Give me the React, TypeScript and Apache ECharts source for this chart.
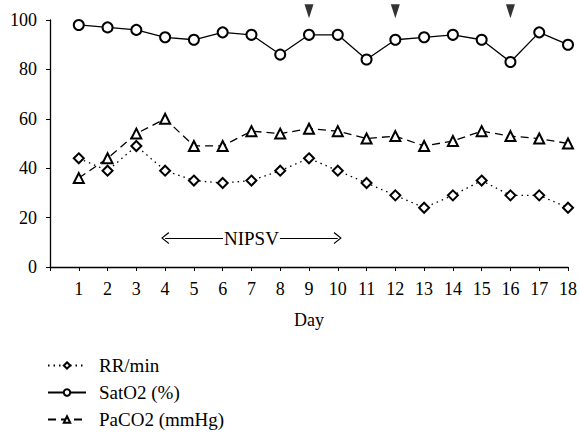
import React, { useEffect, useRef } from "react";
import * as echarts from "echarts";

const days = [1, 2, 3, 4, 5, 6, 7, 8, 9, 10, 11, 12, 13, 14, 15, 16, 17, 18];
const rrValues = [44, 39, 49, 39, 35, 34, 35, 39, 44, 39, 34, 29, 24, 29, 35, 29, 29, 24];
const satValues = [98, 97, 96, 93, 92, 95, 94, 86, 94, 94, 84, 92, 93, 94, 92, 83, 95, 90];
const pacoValues = [36, 44, 54, 60, 49, 49, 55, 54, 56, 55, 52, 53, 49, 51, 55, 53, 52, 50];
const markerDays = [9, 12, 16];
const markerLevel = 103.5;
const nipsvStart = 4;
const nipsvEnd = 10;
const nipsvLevel = 11.7;
const yTicks = [0, 20, 40, 60, 80, 100];

const FONT = "Liberation Serif";

export default function App() {
  const ref = useRef<HTMLDivElement>(null);
  useEffect(() => {
    if (!ref.current) return;
    const chart = echarts.init(ref.current, undefined, { renderer: "svg" });
    const pair = (vals: number[]) => days.map((d, i) => [d, vals[i]]);
    const chevron = "path://M0,10 L5,0 L10,10 L9,10.8 L5,2.4 L1,10.8 Z";
    chart.setOption({
      animation: false,
      backgroundColor: "#fff",
      textStyle: { fontFamily: FONT, color: "#000" },
      grid: { left: 50, right: 9, top: 20, bottom: 167, containLabel: false },
      legend: {
        orient: "vertical",
        left: 47,
        top: 356,
        height: 76,
        padding: 0,
        itemWidth: 38,
        itemHeight: 8,
        itemGap: 8,
        data: ["RR/min", "SatO2 (%)", "PaCO2 (mmHg)"],
        textStyle: { fontFamily: FONT, fontSize: 19, lineHeight: 18, color: "#000", padding: [0, 0, 0, 8] },
      },
      xAxis: {
        type: "value",
        min: 0,
        max: 18,
        interval: 1,
        name: "Day",
        nameLocation: "middle",
        nameGap: 44,
        nameTextStyle: { fontFamily: FONT, fontSize: 18, color: "#000" },
        axisLine: { show: true, lineStyle: { color: "#000", width: 1.3 } },
        axisTick: { show: true, length: 4, lineStyle: { color: "#000" } },
        axisLabel: {
          margin: 13,
          fontFamily: FONT,
          fontSize: 18,
          color: "#000",
          formatter: (v: number) => (v === 0 ? "" : String(v)),
        },
        splitLine: { show: false },
      },
      yAxis: {
        type: "value",
        min: yTicks[0],
        max: yTicks[yTicks.length - 1],
        interval: 20,
        axisLine: { show: true, lineStyle: { color: "#000", width: 1.3 } },
        axisTick: { show: true, length: 4, lineStyle: { color: "#000" } },
        axisLabel: { margin: 13, fontFamily: FONT, fontSize: 18, color: "#000" },
        splitLine: { show: false },
      },
      series: [
        {
          name: "RR/min",
          type: "line",
          data: pair(rrValues),
          symbol: "emptyDiamond",
          symbolSize: 10,
          itemStyle: { color: "#000", borderWidth: 1.3 },
          lineStyle: { color: "#000", width: 1.3, type: [1.5, 4] },
          markLine: {
            silent: true,
            symbol: [chevron, chevron],
            symbolSize: [12, 8],
            lineStyle: { color: "#000", width: 1, type: "solid" },
            label: {
              show: true,
              position: "middle",
              formatter: "NIPSV",
              distance: 0,
              verticalAlign: "middle",
              backgroundColor: "#fff",
              padding: [0, 1],
              fontFamily: FONT,
              fontSize: 19,
              color: "#000",
            },
            data: [[{ coord: [nipsvStart, nipsvLevel] }, { coord: [nipsvEnd, nipsvLevel] }]],
          },
        },
        {
          name: "SatO2 (%)",
          type: "line",
          data: pair(satValues),
          symbol: "emptyCircle",
          symbolSize: 10,
          itemStyle: { color: "#000", borderWidth: 1.3 },
          lineStyle: { color: "#000", width: 1.3, type: "solid" },
        },
        {
          name: "PaCO2 (mmHg)",
          type: "line",
          data: pair(pacoValues),
          symbol: "emptyTriangle",
          symbolSize: 10,
          itemStyle: { color: "#000", borderWidth: 1.3 },
          lineStyle: { color: "#000", width: 1.3, type: [8, 5] },
        },
        {
          name: "markers",
          type: "scatter",
          clip: false,
          silent: true,
          data: markerDays.map((d) => [d, markerLevel]),
          symbol: "triangle",
          symbolRotate: 180,
          symbolSize: [9, 14],
          itemStyle: { color: "#000" },
        },
      ],
    });
    return () => chart.dispose();
  }, []);
  return <div ref={ref} style={{ width: 580, height: 434, position: "absolute", left: 0, top: 0 }} />;
}
